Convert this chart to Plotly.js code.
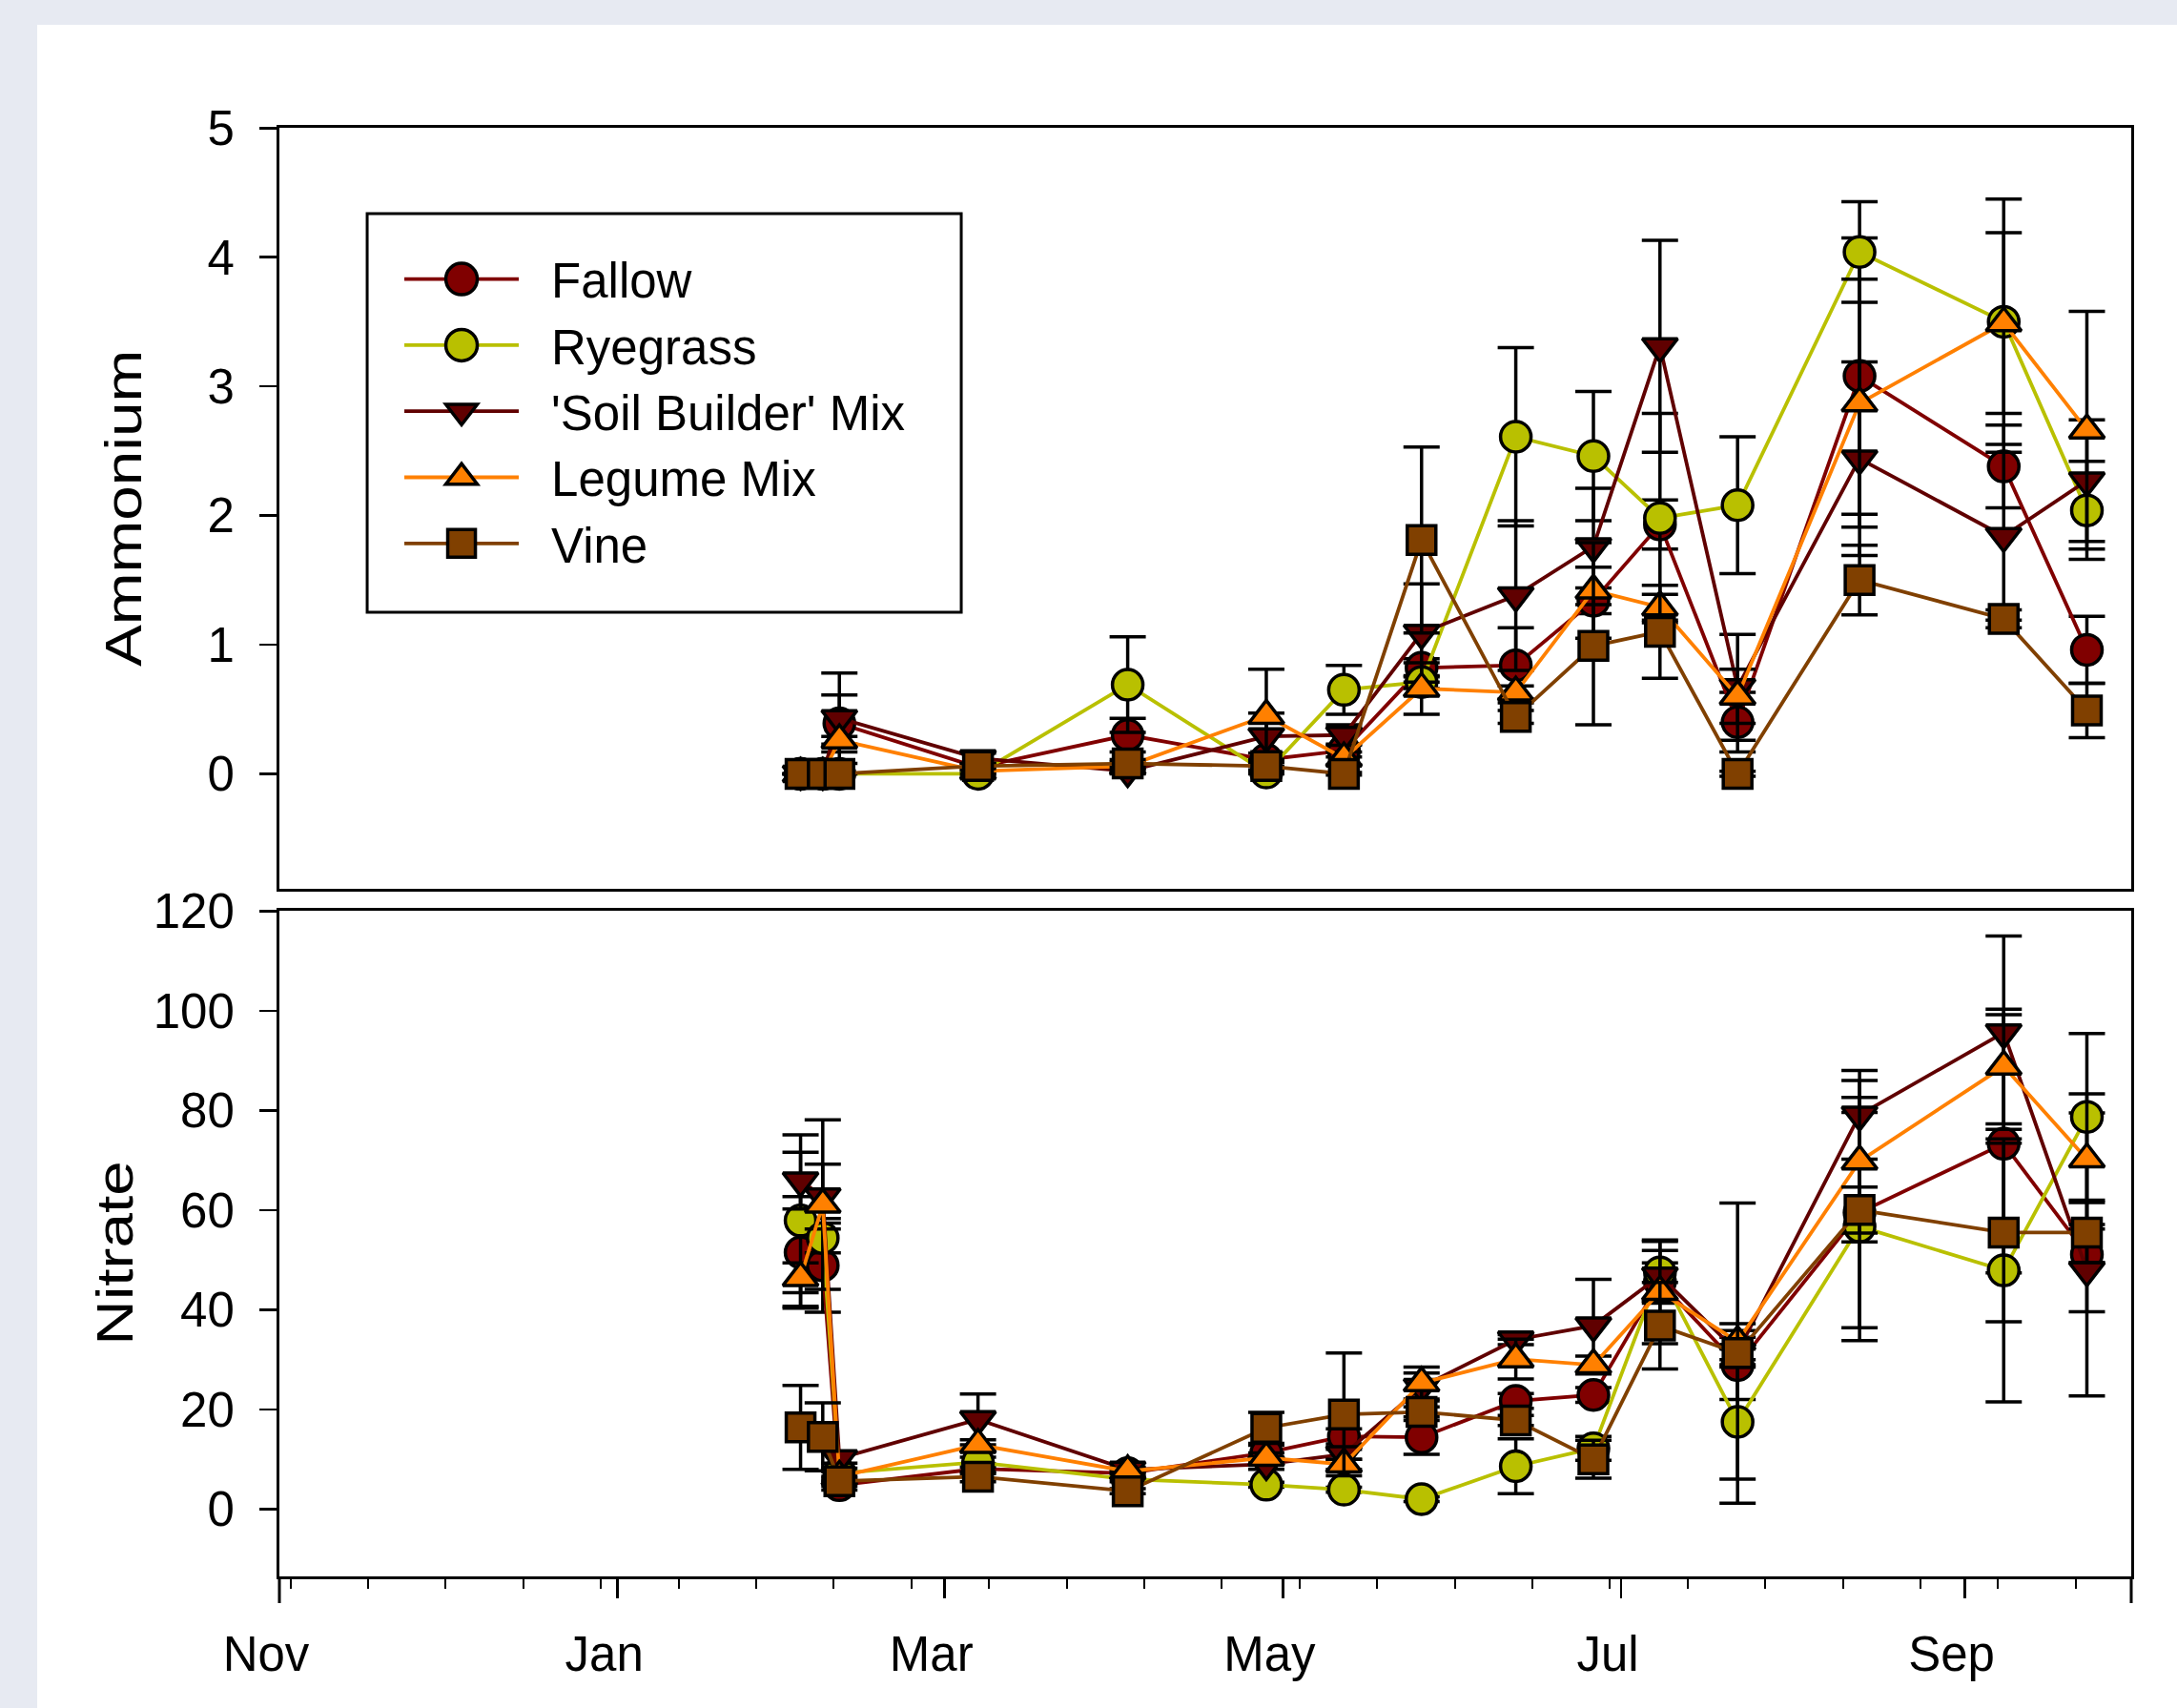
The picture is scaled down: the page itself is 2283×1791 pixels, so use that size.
<!DOCTYPE html>
<html><head><meta charset="utf-8">
<script src="https://cdn.plot.ly/plotly-3.0.1.min.js"></script>
<style>
html,body{margin:0;padding:0;background:#e7eaf2;width:2283px;height:1791px;overflow:hidden}
#plot{position:absolute;left:39px;top:26px;width:2244px;height:1765px;background:#fff}
</style></head><body><div id="plot"></div><script>
// sampling dates
const dates = ['2014-02-03','2014-02-07','2014-02-10','2014-03-07','2014-04-03','2014-04-28','2014-05-12','2014-05-26','2014-06-12','2014-06-26','2014-07-08','2014-07-22','2014-08-13','2014-09-08','2014-09-23'];
const seriesNames = ['Fallow','Ryegrass',"'Soil Builder' Mix",'Legume Mix','Vine'];

// Ammonium
const nh4Fallow      = [0, 0, 0.39, 0.05, 0.30, 0.11, 0.18, 0.82, 0.84, 1.34, 1.93, 0.40, 3.08, 2.38, 0.96];
const nh4FallowErr   = [0, 0, 0.22, 0.03, 0.13, 0.05, 0.05, 0.07, 0.29, 0.10, 0.19, 0.23, 1.07, 0.32, 0.26];
const nh4Ryegrass    = [0, 0, 0, 0.00, 0.69, 0.01, 0.65, 0.71, 2.61, 2.46, 1.98, 2.08, 4.04, 3.50, 2.04];
const nh4RyegrassErr = [0, 0, 0, 0.01, 0.37, 0.01, 0.19, 0.05, 0.69, 0.50, 0.81, 0.53, 0.39, 0.95, 0.38];
const nh4Soil        = [0, 0, 0.43, 0.12, 0.02, 0.29, 0.30, 1.09, 1.38, 1.76, 3.31, 0.67, 2.44, 1.84, 2.27];
const nh4SoilErr     = [0, 0, 0.35, 0.04, 0.02, 0.18, 0.08, 0.38, 0.58, 0.45, 0.82, 0.41, 0.75, 0.65, 0.47];
const nh4Legume      = [0, 0, 0.26, 0.02, 0.06, 0.45, 0.12, 0.66, 0.63, 1.42, 1.29, 0.60, 2.87, 3.49, 2.66];
const nh4LegumeErr   = [0, 0, 0.03, 0.02, 0.03, 0.36, 0.05, 0.20, 0.05, 0.37, 0.10, 0.21, 0.96, 0.70, 0.92];
const nh4Vine        = [0, 0, 0, 0.06, 0.08, 0.06, 0, 1.81, 0.44, 0.99, 1.10, 0, 1.50, 1.20, 0.49];
const nh4VineErr     = [0, 0, 0, 0.02, 0.03, 0.03, 0.01, 0.72, 0.05, 0.61, 0.36, 0.02, 0.27, 0.07, 0.21];

// Nitrate
const no3Fallow      = [51.5, 48.9, 4.8, 8.1, 7.2, 11.3, 14.6, 14.4, 21.7, 22.9, 45.6, 28.9, 59.5, 73.3, 51.1];
const no3FallowErr   = [11.2, 9.4, 1.0, 1.0, 0.8, 1.5, 1.5, 3.4, 1.5, 1.5, 3.8, 6.9, 23.1, 25.9, 28.4];
const no3Ryegrass    = [57.9, 54.4, 7.2, 9.4, 6.0, 4.9, 3.9, 2.0, 8.6, 12.2, 47.5, 17.5, 56.7, 47.9, 78.7];
const no3RyegrassErr = [17.2, 3.0, 1.0, 1.0, 0.5, 0.5, 0.5, 0.5, 5.5, 2.4, 6.2, 11.5, 22.9, 26.4, 16.7];
const no3Soil        = [65.9, 62.7, 10.2, 18.0, 7.9, 9.0, 11.0, 24.5, 34.0, 36.8, 46.8, 31.5, 79.1, 95.6, 47.9];
const no3SoilErr     = [5.7, 6.5, 1.0, 5.1, 0.5, 1.0, 1.0, 2.8, 1.0, 9.3, 5.1, 3.0, 8.9, 19.4, 8.3];
const no3Legume      = [46.4, 61.1, 6.5, 12.9, 7.6, 10.3, 9.0, 25.3, 30.1, 28.9, 43.6, 33.6, 69.8, 88.8, 70.2];
const no3LegumeErr   = [3.0, 17.0, 1.0, 1.0, 0.5, 1.0, 1.0, 3.2, 4.0, 1.8, 10.4, 3.6, 16.2, 11.5, 13.1];
const no3Vine        = [16.4, 14.5, 5.6, 6.5, 3.6, 16.3, 19.0, 19.5, 17.8, 10.0, 36.8, 31.3, 60.0, 55.5, 55.5];
const no3VineErr     = [8.4, 6.8, 1.0, 1.0, 0.5, 3.1, 12.3, 1.0, 1.0, 3.8, 8.7, 30.1, 4.6, 17.9, 6.0];

const styles = [
  {fill:'#800000', line:'#800000', symbol:'circle', size:32},
  {fill:'#b9c000', line:'#b9c000', symbol:'circle', size:32},
  {fill:'#600000', line:'#600000', symbol:'triangle-down', size:32},
  {fill:'#ff8000', line:'#ff8000', symbol:'triangle-up', size:32},
  {fill:'#804000', line:'#804000', symbol:'square', size:30}
];
const nh4 = [[nh4Fallow,nh4FallowErr],[nh4Ryegrass,nh4RyegrassErr],[nh4Soil,nh4SoilErr],[nh4Legume,nh4LegumeErr],[nh4Vine,nh4VineErr]];
const no3 = [[no3Fallow,no3FallowErr],[no3Ryegrass,no3RyegrassErr],[no3Soil,no3SoilErr],[no3Legume,no3LegumeErr],[no3Vine,no3VineErr]];

const FONT = 'Liberation Sans, Arial, sans-serif';
function mk(vals, i, xa, ya, show){
  const s = styles[i];
  return {
    x: dates, y: vals[0], xaxis: xa, yaxis: ya, type:'scatter', mode:'lines+markers',
    name: seriesNames[i], showlegend: show, legendrank: i,
    line:{color:s.line, width:3.8},
    marker:{symbol:s.symbol, size:s.size, color:s.fill, line:{color:'#000', width:3.5}},
    error_y:{type:'data', array: vals[1], visible:true, color:'#000', thickness:3.5, width:19}
  };
}
const traces = [];
nh4.forEach((v,i)=>traces.push(mk(v,i,'x','y',true)));
no3.forEach((v,i)=>traces.push(mk(v,i,'x2','y2',false)));

const axLine = {showline:true, linecolor:'#000', linewidth:3, mirror:true, showgrid:false, zeroline:false};
const layout = {
  width:2244, height:1765,
  margin:{l:254, r:48, t:108, b:138, pad:0},
  paper_bgcolor:'#ffffff', plot_bgcolor:'#ffffff',
  font:{family:FONT, size:50, color:'#000'},
  showlegend:true,
  legend:{x:0.0649, y:0.9217, xanchor:'left', yanchor:'top', bgcolor:'rgba(0,0,0,0)', borderwidth:0,
          font:{family:FONT, size:51, color:'#000'}, itemwidth:120, tracegroupgap:0},
  xaxis: Object.assign({}, axLine, {anchor:'y', matches:'x2', type:'date', range:['2013-11-01','2014-10-01'],
          showticklabels:false, ticks:''}),
  xaxis2: Object.assign({}, axLine, {anchor:'y2', type:'date', range:['2013-11-01','2014-10-01'],
          tick0:'2013-11-01', dtick:'M2', tickformat:'%b', ticks:'outside', ticklen:20, tickwidth:2.5, tickcolor:'#000',
          tickfont:{family:FONT, size:51}, ticklabelshift:-14, ticklabelstandoff:15,
          minor:{dtick:14*86400000, tick0:'2013-11-03', ticks:'outside', ticklen:10, tickwidth:2, tickcolor:'#000', showgrid:false}}),
  yaxis: Object.assign({}, axLine, {anchor:'x', domain:[0.4747,1], range:[-0.89,5.002], dtick:1, tick0:0,
          ticks:'outside', ticklen:18, tickwidth:2.5, tickcolor:'#000', tickfont:{family:FONT, size:51}, ticklabelstandoff:16,
          title:{text:'Ammonium', font:{family:FONT, size:53}, standoff:52}}),
  yaxis2: Object.assign({}, axLine, {anchor:'x2', domain:[0,0.4595], range:[-13.5,120.05], dtick:20, tick0:0,
          ticks:'outside', ticklen:18, tickwidth:2.5, tickcolor:'#000', tickfont:{family:FONT, size:51}, ticklabelstandoff:16,
          title:{text:'Nitrate', font:{family:FONT, size:53}, standoff:5}}),
  shapes:[
    {type:'rect', xref:'paper', yref:'paper', x0:0.0474, x1:0.3682, y0:0.6656, y1:0.9408, line:{color:'#000', width:3}, fillcolor:'rgba(0,0,0,0)'},
    {type:'line', xref:'paper', yref:'paper', x0:0, x1:0, y0:0, y1:-28, ysizemode:'pixel', yanchor:0, line:{color:'#000', width:3}},
    {type:'line', xref:'paper', yref:'paper', x0:1, x1:1, y0:0, y1:-28, ysizemode:'pixel', yanchor:0, line:{color:'#000', width:3}}
  ]
};
const gd = document.getElementById('plot');
Plotly.newPlot(gd, traces, layout, {displayModeBar:false, staticPlot:true}).then(()=>{
  // let the legend content extend past its computed box
  gd.querySelectorAll('.legend .scrollbox, .legend').forEach(g=>g.removeAttribute('clip-path'));
  // enlarge legend glyph markers to match the plotted symbol size
  gd.querySelectorAll('.legend .legendpoints path.scatterpts').forEach(p=>{
    const bb = p.getBBox();
    const d = p.getAttribute('d') || '';
    let target = 33;
    if (/H/.test(d) && /V/.test(d)) target = 29;
    const k = bb.width > 0 ? target / bb.width : 2;
    const t = p.getAttribute('transform') || '';
    p.setAttribute('transform', t + ' scale(' + k.toFixed(3) + ')');
    p.style.vectorEffect = 'non-scaling-stroke';
  });
  // gap between legend glyph and label
  gd.querySelectorAll('.legend text.legendtext').forEach(tx=>{
    const x = +tx.getAttribute('x') || 0;
    tx.setAttribute('x', x + 29);
  });
  // stretch y titles along their length
  gd.querySelectorAll('.ytitle, .y2title').forEach(tx=>{
    const x = +tx.getAttribute('x'), y = +tx.getAttribute('y');
    const t = tx.getAttribute('transform') || '';
    const dy = tx.classList.contains('y2title') ? 10 : 0;
    tx.setAttribute('transform', 'translate(0,' + dy + ') ' + t + ' translate(' + x + ',' + y + ') scale(1.24,1) translate(' + (-x) + ',' + (-y) + ')');
  });
});
</script></body></html>
